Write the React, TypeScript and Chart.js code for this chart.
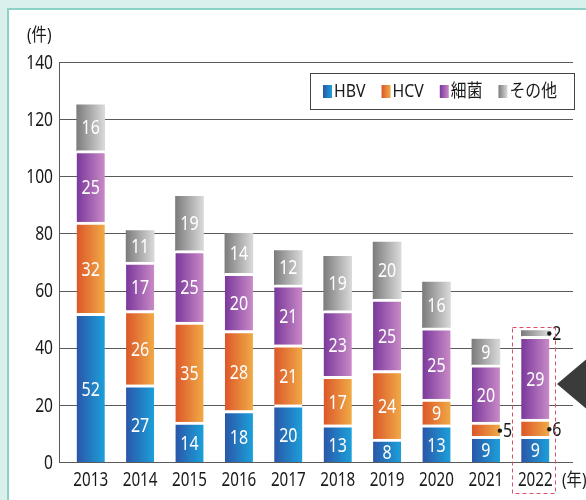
import React, { useEffect, useRef } from "react";
import { Chart, registerables } from "chart.js";

Chart.register(...registerables);

const years = ["2013", "2014", "2015", "2016", "2017", "2018", "2019", "2020", "2021", "2022"];
const hbv = [52, 27, 14, 18, 20, 13, 8, 13, 9, 9];
const hcv = [32, 26, 35, 28, 21, 17, 24, 9, 5, 6];
const bacteria = [25, 17, 25, 20, 21, 23, 25, 25, 20, 29];
const other = [16, 11, 19, 14, 12, 19, 20, 16, 9, 2];
const seriesNames = ["HBV", "HCV", "細菌", "その他"];
const yMax = 140;
const yStep = 20;
const yUnit = "(件)";
const xUnit = "(年)";
const highlightYear = "2022";

const gradColors: [string, string][] = [
  ["#2a56a8", "#1ca0da"],
  ["#dc572a", "#f0aa46"],
  ["#7a389b", "#c98ac7"],
  ["#7c7c7c", "#dadada"],
];

const FONT = "'Noto Sans', 'Noto Sans CJK JP', sans-serif";
const BAR_W = 28;
const TEXT_COLOR = "#1a1a1a";

function makeGrad(c: CanvasRenderingContext2D, x: number, w: number, cols: [string, string]) {
  const g = c.createLinearGradient(x - w / 2, 0, x + w / 2, 0);
  g.addColorStop(0, cols[0]);
  g.addColorStop(1, cols[1]);
  return g;
}

function drawText(
  c: CanvasRenderingContext2D, text: string, x: number, y: number,
  size: number, color: string, align: CanvasTextAlign, sx: number
) {
  c.save();
  c.font = `${size}px ${FONT}`;
  c.fillStyle = color;
  c.textAlign = align;
  c.textBaseline = "middle";
  c.translate(x, y);
  c.scale(sx, 1);
  c.fillText(text, 0, 0);
  c.restore();
}

function textW(c: CanvasRenderingContext2D, text: string, size: number, sx: number) {
  c.save();
  c.font = `${size}px ${FONT}`;
  const w = c.measureText(text).width * sx;
  c.restore();
  return w;
}

const decor = {
  id: "decor",
  beforeDraw(chart: any) {
    const c: CanvasRenderingContext2D = chart.ctx;
    const W = chart.width, H = chart.height;
    c.save();
    c.fillStyle = "#d9f0ed";
    c.fillRect(0, 0, W, H);
    c.fillStyle = "#ffffff";
    c.fillRect(9, 10, W - 9, H - 10);
    c.fillStyle = "#8dd2c6";
    c.fillRect(7, 8, 2, H - 8);
    c.fillRect(7, 8, W - 7, 2);
    c.restore();
  },
  beforeDatasetsDraw(chart: any) {
    const c: CanvasRenderingContext2D = chart.ctx;
    const ys = chart.scales.y;
    const xs = chart.scales.x;
    c.save();
    c.strokeStyle = "#5a5a5a";
    c.lineWidth = 1;
    for (const t of ys.ticks) {
      const yp = ys.getPixelForValue(t.value);
      const y = Math.round(yp) + 0.5;
      c.beginPath();
      c.moveTo(59, y);
      c.lineTo(573, y);
      c.stroke();
      drawText(c, String(t.value), 53, yp + 1, 20, TEXT_COLOR, "right", 0.78);
    }
    c.beginPath();
    c.moveTo(59.5, Math.round(ys.getPixelForValue(yMax)));
    c.lineTo(59.5, Math.round(ys.getPixelForValue(0)) + 1);
    c.stroke();
    years.forEach((yr, i) => {
      drawText(c, yr, xs.getPixelForValue(i), 480, 20, TEXT_COLOR, "center", 0.76);
    });
    c.restore();
  },
  afterDatasetsDraw(chart: any) {
    const c: CanvasRenderingContext2D = chart.ctx;
    const ys = chart.scales.y;
    c.save();
    // labels
    chart.data.datasets.forEach((ds: any, di: number) => {
      const meta = chart.getDatasetMeta(di);
      const gap = di < 3 ? 3 : 0;
      meta.data.forEach((bar: any, i: number) => {
        const v = ds.data[i];
        const { x, y, base } = bar.getProps(["x", "y", "base"], true);
        const cy = (y + gap + base) / 2;
        if (v >= 7) {
          drawText(c, String(v), x, cy + 1, 20, "#ffffff", "center", 0.8);
        } else {
          const dx = x + BAR_W / 2;
          const tw = textW(c, String(v), 20, 0.8);
          c.fillStyle = "#ffffff";
          c.fillRect(dx + 3, cy - 10, tw + 3, 19);
          c.fillStyle = TEXT_COLOR;
          c.beginPath();
          c.arc(dx, cy, 2.2, 0, Math.PI * 2);
          c.fill();
          drawText(c, String(v), dx + 3, cy + 1, 20, TEXT_COLOR, "left", 0.8);
        }
      });
    });
    // highlight rect
    const hi = years.indexOf(highlightYear);
    if (hi >= 0) {
      const xPix = chart.scales.x.getPixelForValue(hi);
      const total = hbv[hi] + hcv[hi] + bacteria[hi] + other[hi];
      const top = ys.getPixelForValue(total) - 4;
      c.strokeStyle = "#e0506a";
      c.lineWidth = 1;
      c.setLineDash([4, 3]);
      c.strokeRect(Math.round(xPix - 23) + 0.5, Math.round(top) + 0.5, 43, 493 - Math.round(top));
      c.setLineDash([]);
    }
    // legend
    c.strokeStyle = "#444444";
    c.lineWidth = 1;
    c.strokeRect(310.5, 73.5, 264, 36);
    let lx = 323;
    seriesNames.forEach((name, k) => {
      c.fillStyle = makeGrad(c, lx + 4.5, 9, gradColors[k]);
      c.fillRect(lx, 85, 9, 13);
      drawText(c, name, lx + 11, 92, 18, TEXT_COLOR, "left", 0.88);
      lx += 11 + textW(c, name, 18, 0.88) + 16;
    });
    // units
    drawText(c, yUnit, 27, 36, 18, TEXT_COLOR, "left", 0.85);
    drawText(c, xUnit, 562, 481, 18, TEXT_COLOR, "left", 0.85);
    // arrow triangle
    c.fillStyle = "#3b3b3b";
    c.beginPath();
    c.moveTo(557, 384);
    c.lineTo(590, 356);
    c.lineTo(590, 412);
    c.closePath();
    c.fill();
    c.restore();
  },
};

export default function App() {
  const ref = useRef<HTMLCanvasElement>(null);
  useEffect(() => {
    const canvas = ref.current!;
    const series = [hbv, hcv, bacteria, other];
    const chart = new Chart(canvas, {
      type: "bar",
      data: {
        labels: years,
        datasets: series.map((d, k) => ({
          label: seriesNames[k],
          data: d,
          barThickness: BAR_W,
          borderColor: "#ffffff",
          borderWidth: k < 3 ? { top: 3, left: 0, right: 0, bottom: 0 } : 0,
          borderSkipped: false,
          backgroundColor: (ctx: any) => {
            const ch = ctx.chart;
            if (ctx.dataIndex === undefined || !ch.scales || !ch.scales.x) return gradColors[k][0];
            const x = ch.scales.x.getPixelForValue(ctx.dataIndex);
            if (!Number.isFinite(x)) return gradColors[k][0];
            return makeGrad(ch.ctx, x, BAR_W, gradColors[k]);
          },
        })),
      },
      options: {
        responsive: false,
        animation: false,
        devicePixelRatio: 1,
        layout: { padding: { top: 62, right: 26, left: 0, bottom: 0 } },
        plugins: { legend: { display: false }, tooltip: { enabled: false } },
        scales: {
          x: {
            stacked: true,
            grid: { display: false, drawTicks: false },
            border: { display: false },
            ticks: { display: false },
            afterFit: (s: any) => { s.height = 38; },
          },
          y: {
            stacked: true,
            min: 0,
            max: yMax,
            grid: { display: false, drawTicks: false },
            border: { display: false },
            ticks: { display: false, stepSize: yStep },
            afterFit: (s: any) => { s.width = 66; },
          },
        },
      } as any,
      plugins: [decor],
    });
    return () => chart.destroy();
  }, []);
  return (
    <div style={{ position: "absolute", left: 0, top: 0, width: 586, height: 500 }}>
      <canvas ref={ref} width={586} height={500} style={{ display: "block", width: 586, height: 500 }} />
    </div>
  );
}
